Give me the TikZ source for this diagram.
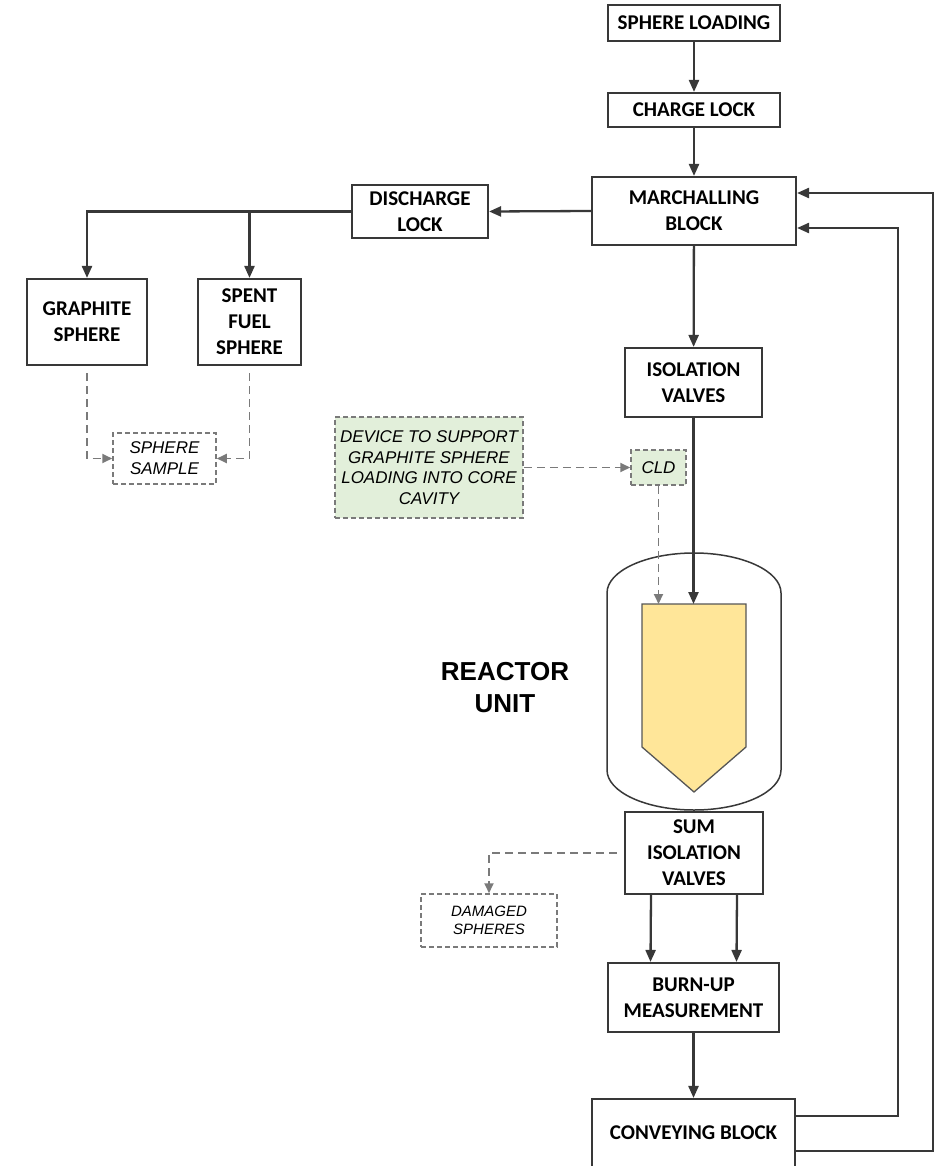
\documentclass[tikz,border=0pt]{standalone}
\usepackage{fontspec}
\setmainfont{Carlito}
\newfontfamily\arialfont{Liberation Sans}
\usetikzlibrary{arrows.meta}
\definecolor{linegray}{HTML}{383838}
\definecolor{dashgray}{HTML}{7A7A7A}
\definecolor{paleGreen}{HTML}{E2EFDA}
\definecolor{coreYellow}{HTML}{FFE699}

\begin{document}
\begin{tikzpicture}[x=1pt,y=-1pt,
  blk/.style={draw=linegray,line width=2.1pt,align=center,inner sep=0pt,
    font=\bfseries\fontsize{21}{26}\selectfont},
  note/.style={draw=dashgray,line width=1.5pt,dash pattern=on 5pt off 3pt,
    align=center,inner sep=0pt,font=\arialfont\itshape\fontsize{17}{21}\selectfont},
  flow/.style={draw=linegray,line width=2.3pt,-{Triangle[length=12pt,width=10pt]}},
  dflow/.style={draw=dashgray,line width=1.9pt,dash pattern=on 8pt off 5pt,
    -{Triangle[length=10pt,width=9pt]}}]
  \useasboundingbox (0,0) rectangle (940,1166);
  % ----- loading chain -----
  \node[blk,minimum width=172pt,minimum height=36pt] (load) at (694,23){SPHERE LOADING};
  \node[blk,minimum width=172pt,minimum height=34pt] (charge) at (694,110){CHARGE LOCK};
  \node[blk,minimum width=204pt,minimum height=68pt] (marsh) at (694,211){MARCHALLING\\BLOCK};
  \node[blk,minimum width=137pt,minimum height=69pt] (iso) at (693.5,382.5){ISOLATION\\VALVES};
  % ----- discharge side -----
  \node[blk,minimum width=136pt,minimum height=53pt] (dlock) at (420,211.5){DISCHARGE\\LOCK};
  \node[blk,minimum width=120pt,minimum height=86pt] (graph) at (87,322){GRAPHITE\\SPHERE};
  \node[blk,minimum width=103pt,minimum height=86pt] (spent) at (249.5,322){SPENT\\FUEL\\SPHERE};
  \node[note,minimum width=103pt,minimum height=51pt] (sample) at (164.5,458.5){SPHERE\\SAMPLE};
  % ----- loading device -----
  \node[note,fill=paleGreen,minimum width=188pt,minimum height=101pt,
    font=\arialfont\itshape\fontsize{17}{20.7}\selectfont] (device) at (429,467.5)
    {DEVICE TO SUPPORT\\GRAPHITE SPHERE\\LOADING INTO CORE\\CAVITY};
  \node[note,fill=paleGreen,minimum width=55pt,minimum height=35pt] (cld) at (658.5,467.5){CLD};
  % ----- reactor -----
  \draw[linegray,line width=1.5pt] (607,593) .. controls (607,571) and (646,553) .. (694,553)
    .. controls (742,553) and (781,571) .. (781,593) -- (781,770)
    .. controls (781,792) and (742,810) .. (694,810)
    .. controls (646,810) and (607,792) .. (607,770) -- cycle;
  \draw[fill=coreYellow,draw=linegray!85,line width=1.3pt]
    (642,604) -- (746,604) -- (746,747) -- (694,792) -- (642,747) -- cycle;
  \coordinate (coretop) at (694,604);
  \node[font=\arialfont\bfseries\fontsize{26}{32}\selectfont,align=center] (reactor) at (505,688){REACTOR\\UNIT};
  % ----- lower chain -----
  \node[blk,minimum width=138pt,minimum height=82pt] (sum) at (694,853){SUM\\ISOLATION\\VALVES};
  \node[note,minimum width=136pt,minimum height=53pt,
    font=\arialfont\itshape\fontsize{15}{18.5}\selectfont] (damaged) at (489,920.5){DAMAGED\\SPHERES};
  \node[blk,minimum width=171pt,minimum height=69pt] (burn) at (693.5,997.5){BURN-UP\\MEASUREMENT};
  \node[blk,minimum width=203pt,minimum height=68pt] (convey) at (693.5,1133){CONVEYING BLOCK};
  % ----- connectors -----
  \draw[flow] (load) -- (charge);
  \draw[flow] (charge) -- (marsh);
  \draw[flow] (marsh) -- (iso);
  \draw[flow] (marsh.west) -- (dlock.east);
  \draw[flow] (dlock.west) -| (graph.north);
  \coordinate (split) at (spent.north |- dlock.west);
  \draw[flow] (split) -- (spent.north);
  \draw[dflow,shorten <=7pt] (graph.south) |- (sample.west);
  \draw[dflow,shorten <=7pt] (spent.south) |- (sample.east);
  \draw[dflow] (device.east) -- (cld.west);
  \draw[dflow] (cld.south) -- (cld.south |- coretop);
  \draw[flow] (iso.south) -- (iso.south |- coretop);
  \draw[dflow,shorten <=7pt] (sum.west) -| (damaged.north);
  \foreach \dx in {-43,43}
    \draw[flow] ([xshift=\dx pt]sum.south) -- ([xshift=\dx pt]burn.north);
  \draw[flow] (burn) -- (convey);
  % return loops
  \foreach \nm/\cy/\my/\rx in {in/17/-17/898,out/-18/18/933}{
    \coordinate (c\nm) at ([yshift=\cy pt]convey.east);
    \coordinate (m\nm) at ([yshift=\my pt]marsh.east);
    \coordinate (r\nm) at (\rx,0);
    \draw[flow] (c\nm) -- (c\nm -| r\nm) |- (m\nm);}
\end{tikzpicture}
\end{document}
